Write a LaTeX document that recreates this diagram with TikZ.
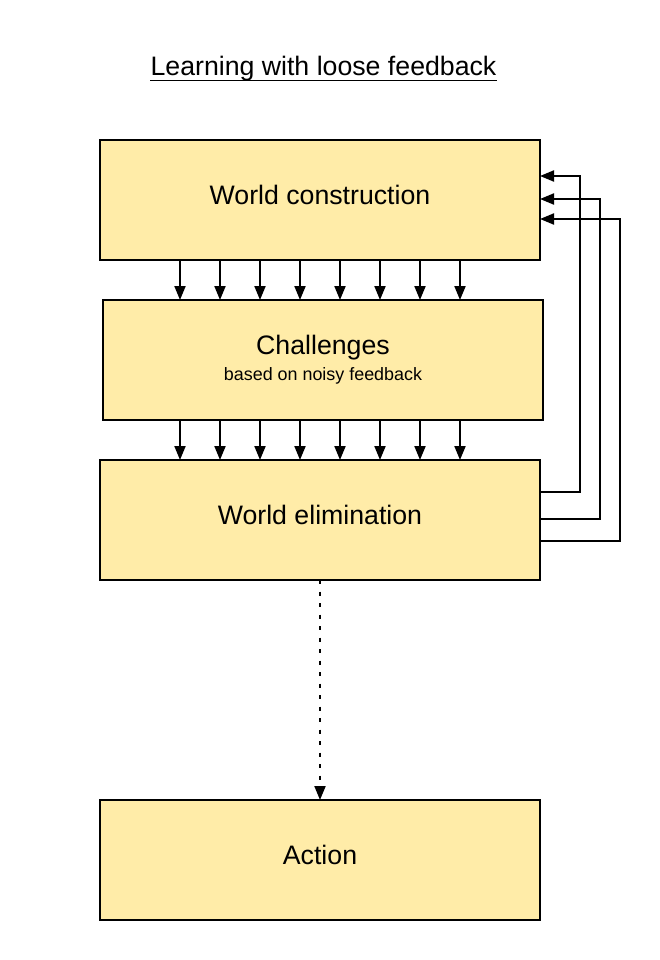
\documentclass[tikz,border=0pt]{standalone}
\usepackage{fontspec}
\setmainfont{Liberation Sans}
\usetikzlibrary{arrows.meta}
\definecolor{boxfill}{HTML}{FFECA8}
\tikzset{
  box/.style={draw=black, line width=2pt, fill=boxfill, minimum width=440pt, minimum height=120pt, inner sep=0pt, outer sep=0pt,
    font=\fontsize{26.7}{30}\selectfont, text height=18pt, text depth=9pt},
  arr/.style={line width=2pt, -{Triangle[length=14pt,width=11pt]}},
  dotarr/.style={arr, dash pattern=on 4pt off 7.5pt},
}
\begin{document}
\begin{tikzpicture}[x=1pt,y=-1pt]
\fill[white] (0,0) rectangle (659,960);
\useasboundingbox (0,0) rectangle (659,960);
\node[inner sep=0pt, anchor=base, font=\fontsize{26.7}{30}\selectfont] (title) at (323.5,76) {Learning with loose feedback};
\draw[line width=1.5pt] ([yshift=-4.5pt]title.base west) -- ([yshift=-4.5pt]title.base east);
\node[box] (wc) at (320,200) {World construction};
\node[box, text height=5pt, text depth=16pt] (ch) at (323,360) {Challenges};
\node[inner sep=0pt, anchor=base, font=\fontsize{17.9}{20}\selectfont] (chsub) at (323,380) {based on noisy feedback};
\node[box] (we) at (320,520) {World elimination};
\node[box] (ac) at (320,860) {Action};
\foreach \x in {180,220,...,460} {
  \draw[arr] (wc.south -| \x,0) -- (ch.north -| \x,0);
  \draw[arr] (ch.south -| \x,0) -- (we.north -| \x,0);
}
\draw[arr] (we.east |- 0,492) -- (580,492) -- (580,176) -- (wc.east |- 0,176);
\draw[arr] (we.east |- 0,519) -- (600,519) -- (600,199) -- (wc.east |- 0,199);
\draw[arr] (we.east |- 0,541) -- (620,541) -- (620,219) -- (wc.east |- 0,219);
\draw[dotarr] (we.south) -- (ac.north);
\end{tikzpicture}
\end{document}
